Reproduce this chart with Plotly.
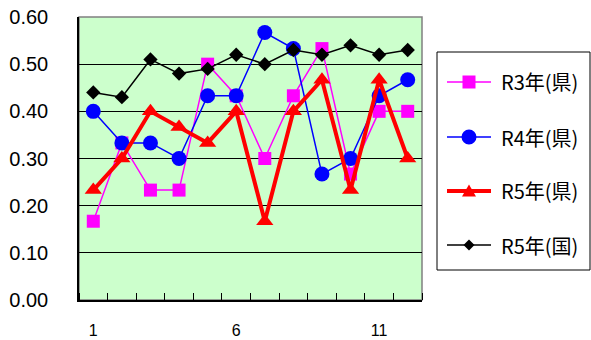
import plotly.graph_objects as go

cats = list(range(1, 13))
r3_pref = [0.167, 0.333, 0.233, 0.233, 0.500, 0.433, 0.300, 0.433, 0.533, 0.267, 0.400, 0.400]
r4_pref = [0.400, 0.333, 0.333, 0.300, 0.433, 0.433, 0.567, 0.533, 0.267, 0.300, 0.433, 0.467]
r5_pref = [0.233, 0.300, 0.400, 0.367, 0.333, 0.400, 0.167, 0.400, 0.467, 0.233, 0.467, 0.300]
r5_nat = [0.44, 0.43, 0.51, 0.48, 0.49, 0.52, 0.50, 0.53, 0.52, 0.54, 0.52, 0.53]

y_ticks = [0.0, 0.1, 0.2, 0.3, 0.4, 0.5, 0.6]
x_labels = [1, 6, 11]

series = [
    ("R3年(県)", r3_pref, "#FF00FF", 1.5, "square", 13),
    ("R4年(県)", r4_pref, "#0000FF", 1.5, "circle", 15),
    ("R5年(県)", r5_pref, "#FF0000", 4, "triangle-up", 15),
    ("R5年(国)", r5_nat, "#000000", 1.5, "diamond", 11),
]

W, H = 591, 340
M = dict(l=79, r=169, t=17, b=40)
PW, PH = W - M["l"] - M["r"], H - M["t"] - M["b"]


def px2paper(px, py):
    return (px - M["l"]) / PW, (H - M["b"] - py) / PH


fig = go.Figure()
for i, (name, vals, col, lw, sym, sz) in enumerate(series):
    fig.add_trace(go.Scatter(
        x=cats, y=vals, name=name, mode="lines+markers",
        line=dict(color=col, width=lw),
        marker=dict(symbol=sym, size=sz, color=col, line=dict(width=0)),
        cliponaxis=False, showlegend=False,
    ))

# 外枠(灰色)
fig.add_shape(type="rect", xref="paper", yref="paper", x0=0, x1=1, y0=0, y1=1,
              line=dict(color="#808080", width=1.5), layer="below")

# 凡例(手描き)
bx0, by0 = px2paper(437, 52)
bx1, by1 = px2paper(590, 270)
fig.add_shape(type="rect", xref="paper", yref="paper", x0=bx0, x1=bx1, y0=by1, y1=by0,
              line=dict(color="#000000", width=1), fillcolor="white")
row_y = [82, 137, 191, 245]
marker_paths = {
    "square": "M-6.5,-6.5 L6.5,-6.5 L6.5,6.5 L-6.5,6.5 Z",
    "triangle-up": "M-7,-5.5 L7,-5.5 L0,6.5 Z",
    "diamond": "M0,-5.5 L5.5,0 L0,5.5 L-5.5,0 Z",
}
for (name, vals, col, lw, sym, sz), ry in zip(series, row_y):
    lx0, ly = px2paper(447, ry)
    lx1, _ = px2paper(491, ry)
    mx, _ = px2paper(469, ry)
    tx, _ = px2paper(499, ry)
    fig.add_shape(type="line", xref="paper", yref="paper", x0=lx0, x1=lx1, y0=ly, y1=ly,
                  line=dict(color=col, width=lw))
    if sym == "circle":
        fig.add_shape(type="circle", xref="paper", yref="paper",
                      xsizemode="pixel", ysizemode="pixel", xanchor=mx, yanchor=ly,
                      x0=-7.5, x1=7.5, y0=-7.5, y1=7.5,
                      fillcolor=col, line=dict(width=0))
    else:
        fig.add_shape(type="path", xref="paper", yref="paper",
                      xsizemode="pixel", ysizemode="pixel", xanchor=mx, yanchor=ly,
                      path=marker_paths[sym], fillcolor=col, line=dict(width=0))
    fig.add_annotation(xref="paper", yref="paper", x=tx, y=ly, text=name,
                       showarrow=False, xanchor="left", yanchor="middle",
                       font=dict(family="Noto Sans CJK JP", size=20, color="#000000"))

fig.update_layout(
    width=W, height=H,
    margin=dict(**M, autoexpand=False),
    paper_bgcolor="white", plot_bgcolor="#CCFFCC",
    font=dict(family="Liberation Sans, Arial, sans-serif", color="#000000"),
    xaxis=dict(
        range=[0.5, 12.5], tickvals=x_labels, ticktext=[str(v) for v in x_labels],
        ticks="", showgrid=False, zeroline=False, automargin=False,
        showline=True, linecolor="#000000", linewidth=1.5,
        tickfont=dict(size=16), ticklabelstandoff=15,
        minor=dict(tickvals=[c + 0.5 for c in range(0, 13)], ticks="inside",
                   ticklen=7, tickcolor="#000000", tickwidth=1, showgrid=False),
    ),
    yaxis=dict(
        range=[0, 0.6], tickvals=y_ticks, tickformat=".2f", automargin=False,
        showgrid=True, gridcolor="#000000", gridwidth=1, zeroline=False,
        showline=True, linecolor="#000000", linewidth=1.5,
        tickfont=dict(size=20), ticklabelstandoff=25,
    ),
    showlegend=False,
)

fig.write_html("out.html", config={"displayModeBar": False},
               post_script="document.body.style.margin='0';")
